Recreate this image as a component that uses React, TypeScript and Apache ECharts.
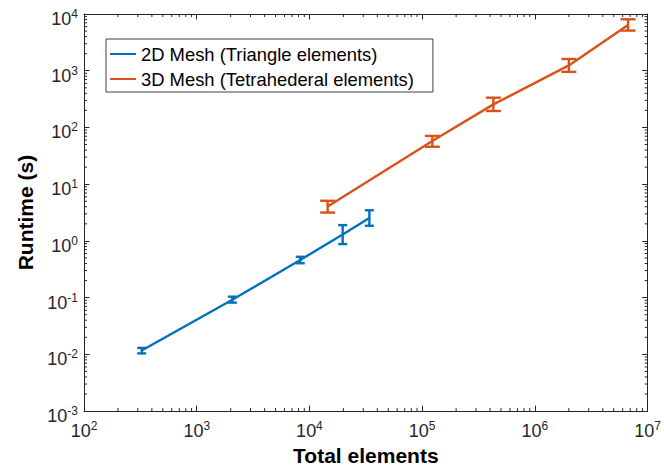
import React, { useEffect, useRef } from "react";
import * as echarts from "echarts";

// Axis ranges (log10 scale)
const X_MIN = 1e2;
const X_MAX = 1e7;
const Y_MIN = 1e-3;
const Y_MAX = 1e4;

// 2D mesh runs: element count, mean runtime and error-bar bounds (s)
const mesh2dElements = [325, 2070, 8280, 19700, 34000];
const mesh2dRuntime = [0.0117, 0.092, 0.46, 1.3, 2.53];
const mesh2dLow = [0.0104, 0.0817, 0.404, 0.88, 1.85];
const mesh2dHigh = [0.013, 0.104, 0.525, 1.9, 3.47];

// 3D mesh runs
const mesh3dElements = [14500, 123000, 428000, 2.0e6, 6.7e6];
const mesh3dRuntime = [4.03, 57.5, 255, 1240, 6410];
const mesh3dLow = [3.16, 45.7, 195, 955, 5100];
const mesh3dHigh = [5.1, 71, 335, 1610, 8070];

const seriesNames = ["2D Mesh (Triangle elements)", "3D Mesh (Tetrahederal elements)"];
const xTitle = "Total elements";
const yTitle = "Runtime (s)";

const BLUE = "#0072BD";
const ORANGE = "#D95319";
const AXIS = "#262626";
const FONT = "'Liberation Sans', Arial, Helvetica, sans-serif";
const LINE_W = 2.4;

// minor tick positions 2..9 within each decade
function minorTicks(lo: number, hi: number): number[] {
  const out: number[] = [];
  for (let e = Math.round(Math.log10(lo)); e < Math.round(Math.log10(hi)); e++) {
    for (let m = 2; m <= 9; m++) out.push(m * Math.pow(10, e));
  }
  return out;
}

const powerLabel = (v: number) => `{b|10}{s|${Math.round(Math.log10(v))}}`;

const labelRich = {
  b: { fontSize: 18, fontFamily: FONT, color: AXIS, padding: [10, 0, 0, 0] },
  s: { fontSize: 12, fontFamily: FONT, color: AXIS },
};

function errorBars(xs: number[], lows: number[], highs: number[], color: string, halfCap: number) {
  return {
    type: "custom",
    silent: true,
    z: 3,
    data: xs.map((x, i) => [x, lows[i], highs[i]]),
    encode: { x: 0, y: [1, 2] },
    renderItem: (_p: any, api: any) => {
      const lo = api.coord([api.value(0), api.value(1)]);
      const hi = api.coord([api.value(0), api.value(2)]);
      const style = { stroke: color, lineWidth: LINE_W, fill: "none" };
      return {
        type: "group",
        children: [
          { type: "line", shape: { x1: lo[0], y1: lo[1], x2: hi[0], y2: hi[1] }, style },
          { type: "line", shape: { x1: lo[0] - halfCap, y1: lo[1], x2: lo[0] + halfCap, y2: lo[1] }, style },
          { type: "line", shape: { x1: hi[0] - halfCap, y1: hi[1], x2: hi[0] + halfCap, y2: hi[1] }, style },
        ],
      };
    },
  };
}

function minorTickSeries(values: number[], horizontal: boolean) {
  const len = 3;
  return {
    type: "custom",
    silent: true,
    z: 1,
    data: values.map((v) => (horizontal ? [v, Y_MIN] : [X_MIN, v])),
    encode: { x: 0, y: 1 },
    renderItem: (_p: any, api: any) => {
      const style = { stroke: AXIS, lineWidth: 1 };
      if (horizontal) {
        const v = api.value(0);
        const b = api.coord([v, Y_MIN]);
        const t = api.coord([v, Y_MAX]);
        return {
          type: "group",
          children: [
            { type: "line", shape: { x1: b[0], y1: b[1], x2: b[0], y2: b[1] - len }, style },
            { type: "line", shape: { x1: t[0], y1: t[1], x2: t[0], y2: t[1] + len }, style },
          ],
        };
      }
      const v = api.value(1);
      const l = api.coord([X_MIN, v]);
      const r = api.coord([X_MAX, v]);
      return {
        type: "group",
        children: [
          { type: "line", shape: { x1: l[0], y1: l[1], x2: l[0] + len, y2: l[1] }, style },
          { type: "line", shape: { x1: r[0], y1: r[1], x2: r[0] - len, y2: r[1] }, style },
        ],
      };
    },
  };
}

const axisBase = {
  type: "log",
  logBase: 10,
  axisLine: { show: true, onZero: false, lineStyle: { color: AXIS, width: 1 } },
  axisTick: { show: true, inside: true, length: 5.5, lineStyle: { color: AXIS, width: 1 } },
  splitLine: { show: false },
  minorTick: { show: false },
};

export default function App() {
  const ref = useRef<HTMLDivElement>(null);

  useEffect(() => {
    const chart = echarts.init(ref.current!, null, { renderer: "svg" });
    const option: any = {
      animation: false,
      backgroundColor: "#ffffff",
      textStyle: { fontFamily: FONT },
      grid: { left: 84, right: 15, top: 14, bottom: 57 },
      legend: {
        data: seriesNames,
        orient: "vertical",
        left: 106,
        top: 39,
        icon: "rect",
        itemWidth: 26,
        itemHeight: 2,
        itemGap: 5,
        padding: [5, 19, 3, 4],
        borderColor: "#404040",
        borderWidth: 1,
        backgroundColor: "#ffffff",
        textStyle: { fontSize: 18.4, lineHeight: 20, color: "#000", fontFamily: FONT },
      },
      xAxis: [
        {
          ...axisBase,
          position: "bottom",
          min: X_MIN,
          max: X_MAX,
          splitNumber: 5,
          name: xTitle,
          nameLocation: "middle",
          nameGap: 33,
          nameTextStyle: { fontSize: 21, fontWeight: "bold", color: "#000", fontFamily: FONT },
          axisLabel: {
            margin: 1,
            formatter: powerLabel,
            rich: labelRich,
            showMinLabel: true,
            showMaxLabel: true,
          },
        },
        {
          ...axisBase,
          position: "top",
          min: X_MIN,
          max: X_MAX,
          splitNumber: 5,
          axisLabel: { show: false },
        },
      ],
      yAxis: [
        {
          ...axisBase,
          position: "left",
          min: Y_MIN,
          max: Y_MAX,
          splitNumber: 7,
          name: yTitle,
          nameLocation: "middle",
          nameGap: 46,
          nameTextStyle: { fontSize: 21, fontWeight: "bold", color: "#000", fontFamily: FONT },
          axisLabel: {
            margin: 6,
            formatter: powerLabel,
            rich: labelRich,
            showMinLabel: true,
            showMaxLabel: true,
          },
        },
        {
          ...axisBase,
          position: "right",
          min: Y_MIN,
          max: Y_MAX,
          splitNumber: 7,
          axisLabel: { show: false },
        },
      ],
      series: [
        minorTickSeries(minorTicks(X_MIN, X_MAX), true),
        minorTickSeries(minorTicks(Y_MIN, Y_MAX), false),
        {
          type: "line",
          name: seriesNames[0],
          data: mesh2dElements.map((x, i) => [x, mesh2dRuntime[i]]),
          symbol: "none",
          lineStyle: { color: BLUE, width: LINE_W },
          itemStyle: { color: BLUE },
          z: 2,
        },
        {
          type: "line",
          name: seriesNames[1],
          data: mesh3dElements.map((x, i) => [x, mesh3dRuntime[i]]),
          symbol: "none",
          lineStyle: { color: ORANGE, width: LINE_W },
          itemStyle: { color: ORANGE },
          z: 2,
        },
        errorBars(mesh2dElements, mesh2dLow, mesh2dHigh, BLUE, 4.5),
        errorBars(mesh3dElements, mesh3dLow, mesh3dHigh, ORANGE, 7.5),
      ],
    };
    chart.setOption(option);
    return () => chart.dispose();
  }, []);

  return (
    <div
      ref={ref}
      style={{ position: "absolute", left: 0, top: 0, width: 664, height: 471 }}
    />
  );
}
